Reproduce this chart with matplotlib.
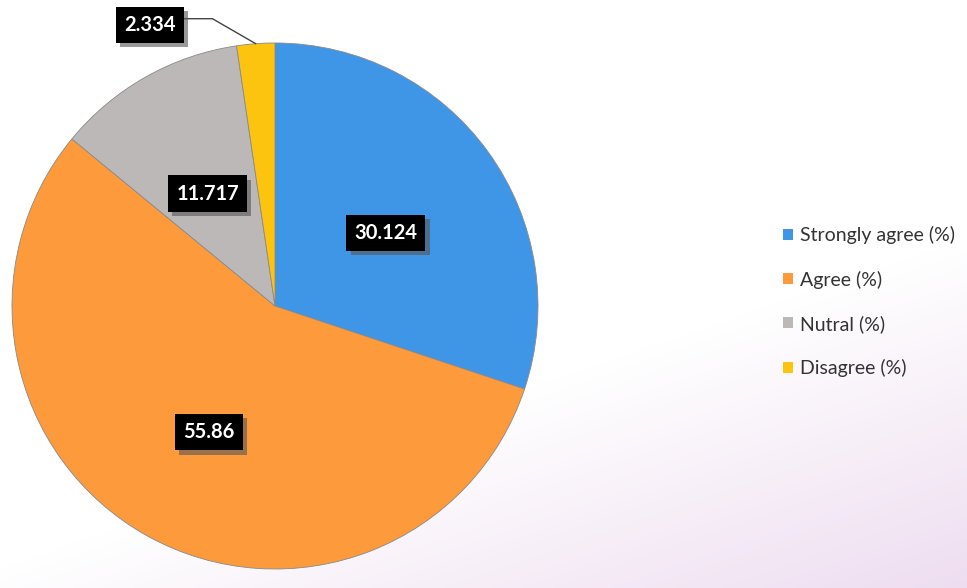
import matplotlib.pyplot as plt
import matplotlib.patheffects as pe
from matplotlib.patches import Patch
import numpy as np

plt.rcParams['font.family'] = ['Lato', 'DejaVu Sans']

categories = ['Strongly agree (%)', 'Agree (%)', 'Nutral (%)', 'Disagree (%)']
values = [30.124, 55.86, 11.717, 2.334]
value_labels = ['30.124', '55.86', '11.717', '2.334']
colors = ['#3f95e6', '#fd9a3c', '#bdb8b8', '#fcc40f']

fig = plt.figure(figsize=(9.67, 5.88), dpi=100)

# faint lavender wash towards the bottom right, like the photographed slide
bg = fig.add_axes([0, 0, 1, 1], zorder=-1)
yy, xx = np.mgrid[0:1:200j, 0:1:300j]
t = np.clip(1.6 * (yy - 0.55) + 0.9 * (xx - 0.75), 0, 1)
white = np.array([1.0, 1.0, 1.0])
lav = np.array([0.93, 0.86, 0.94])
img = white * (1 - t[..., None]) + lav * t[..., None]
bg.imshow(img, aspect='auto', extent=[0, 1, 0, 1])
bg.axis('off')

ax = fig.add_axes([12 / 967, 19 / 588, 526 / 967, 526 / 588])
wedges, _ = ax.pie(values, colors=colors, startangle=90, counterclock=False,
                   radius=1, wedgeprops=dict(linewidth=0.6, edgecolor='#8a8a8a'))
ax.set_xlim(-1, 1)
ax.set_ylim(-1, 1)
ax.set_aspect('equal')
ax.axis('off')

box = dict(boxstyle='square,pad=0.4', fc='black', ec='none')
shadow = [pe.SimplePatchShadow(offset=(3, -3), shadow_rgbFace='#555555', alpha=0.6), pe.Normal()]

for w, lab in zip(wedges, value_labels):
    mid = np.deg2rad((w.theta1 + w.theta2) / 2)
    if lab == '2.334':
        t = ax.annotate(lab, xy=(np.cos(mid), np.sin(mid)), xytext=(-0.475, 1.068),
                        ha='center', va='center', color='white', fontsize=14.5, fontweight='bold',
                        bbox=box, annotation_clip=False,
                        arrowprops=dict(arrowstyle='-', color='#444444', lw=1.0, relpos=(1.0, 0.82),
                                        connectionstyle='angle,angleA=0,angleB=150,rad=0',
                                        shrinkA=0, shrinkB=0))
    else:
        r = 0.52
        t = ax.text(r * np.cos(mid), r * np.sin(mid) - 0.025, lab, ha='center', va='center',
                    color='white', fontsize=14.5, fontweight='bold', bbox=box)
    t.get_bbox_patch().set_path_effects(shadow)

handles = [Patch(facecolor=c, edgecolor='none') for c in colors]
fig.legend(handles, categories, loc='center left', bbox_to_anchor=(0.8, 0.487),
           frameon=False, fontsize=14, labelspacing=1.35, handlelength=0.5,
           handleheight=0.5, handletextpad=0.35, borderpad=0, labelcolor='#333333')

fig.savefig('out.png', dpi=100)
